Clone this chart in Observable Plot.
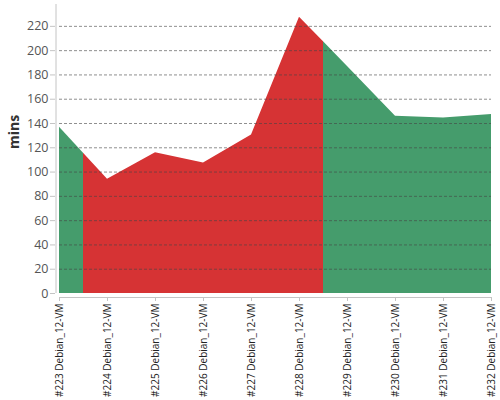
<!DOCTYPE html>
<html>
<head>
<meta charset="utf-8">
<script src="https://cdn.jsdelivr.net/npm/d3@7"></script>
<script src="https://cdn.jsdelivr.net/npm/@observablehq/plot@0.6"></script>
<style>
  html, body { margin: 0; padding: 0; background: #fff; }
  #chart { width: 500px; height: 400px; }
  svg { font-family: "Open Sans", sans-serif; }
</style>
</head>
<body>
<div id="chart"></div>
<script>
const builds = ["#223 Debian_12-VM", "#224 Debian_12-VM", "#225 Debian_12-VM", "#226 Debian_12-VM", "#227 Debian_12-VM",
                "#228 Debian_12-VM", "#229 Debian_12-VM", "#230 Debian_12-VM", "#231 Debian_12-VM", "#232 Debian_12-VM"];
const mins = [137, 94, 116, 107.5, 130.5, 227.5, 187, 146, 144.5, 147.5];
const status = ["success", "failure", "failure", "failure", "failure", "failure", "success", "success", "success", "success"];
const yTicks = [0, 20, 40, 60, 80, 100, 120, 140, 160, 180, 200, 220];
const statusColors = {success: "#459c6c", failure: "#d63334"};

// Build one area per run of equal status, split half-way between neighbouring builds
const segs = [];
let run = 0;
for (let i0 = 0; i0 < builds.length; ) {
  let i1 = i0;
  while (i1 + 1 < builds.length && status[i1 + 1] === status[i0]) i1++;
  if (i0 > 0) segs.push({x: i0 - 0.5, y: (mins[i0 - 1] + mins[i0]) / 2, status: status[i0], run});
  for (let i = i0; i <= i1; i++) segs.push({x: i, y: mins[i], status: status[i], run});
  if (i1 < builds.length - 1) segs.push({x: i1 + 0.5, y: (mins[i1] + mins[i1 + 1]) / 2, status: status[i0], run});
  run++;
  i0 = i1 + 1;
}

const idx = builds.map((_, i) => i);

const chart = Plot.plot({
  width: 500,
  height: 400,
  marginLeft: 59,
  marginRight: 9,
  marginTop: 4,
  marginBottom: 107,
  style: {fontFamily: "'Open Sans', sans-serif", fontSize: "11px", background: "#fff"},
  x: {domain: [0, builds.length - 1]},
  y: {domain: [0, 238]},
  color: {domain: Object.keys(statusColors), range: Object.values(statusColors)},
  marks: [
    Plot.areaY(segs, {x: "x", y1: 0, y2: "y", z: "run", fill: "status"}),
    Plot.gridY(yTicks.filter(d => d > 0), {stroke: "#444", strokeOpacity: 0.6, strokeDasharray: "3,2", strokeWidth: 1}),
    Plot.ruleX([0], {dx: -3.5, stroke: "#c4c4c4"}),
    Plot.ruleY([0], {dy: 4, stroke: "#c4c4c4"}),
    Plot.axisY({ticks: yTicks, tickSize: 5, dx: -4, tickPadding: 2, stroke: "#c4c4c4", fill: "#555", fontSize: 12.5, label: null}),
    Plot.axisX({ticks: idx, tickFormat: i => builds[i], tickRotate: -90, tickSize: 4, dy: 4, tickPadding: 2, stroke: "#c4c4c4", fill: "#222", fontSize: 10, label: null}),
    Plot.text(["mins"], {frameAnchor: "left", dx: -45, rotate: -90, fontWeight: "bold", fontSize: 14, fill: "#333"})
  ]
});
document.getElementById("chart").appendChild(chart);
</script>
</body>
</html>
